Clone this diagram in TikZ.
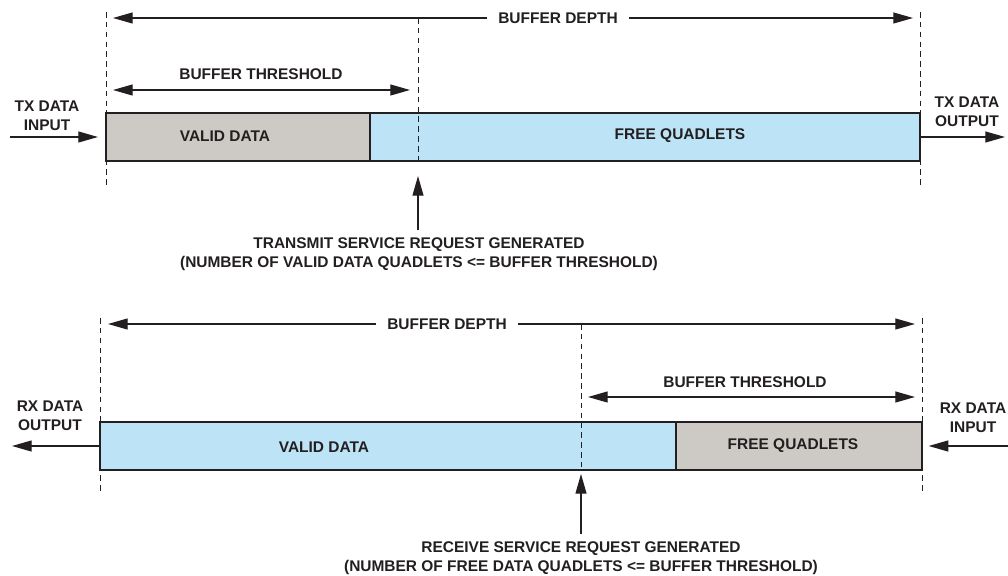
\documentclass[tikz,border=0pt]{standalone}
\usepackage{fontspec}
\setmainfont{Liberation Sans}
\usetikzlibrary{arrows.meta,calc}
\definecolor{validgray}{RGB}{205,201,196}
\definecolor{freeblue}{RGB}{189,228,246}
\definecolor{ink}{RGB}{35,31,32}

\begin{document}
\begin{tikzpicture}[
    x=0.025cm,y=-0.025cm,
    font=\bfseries\fontsize{11}{13.5}\selectfont,
    every node/.style={text=ink},
    seg/.style={rectangle,draw=ink,line width=1.4pt,minimum height=1.22cm,inner sep=0pt},
    lbl/.style={inner sep=1pt,align=center},
    gap/.style={lbl,fill=white,inner xsep=8pt},
    guide/.style={draw=ink,line width=0.6pt,dash pattern=on 4pt off 3pt},
    dim/.style={draw=ink,line width=0.9pt,{Triangle[length=14pt,width=7.8pt]}-{Triangle[length=14pt,width=7.8pt]}},
    io/.style={draw=ink,line width=0.9pt,-{Triangle[length=14pt,width=7.8pt]}}
]
\useasboundingbox (0,0) rectangle (1008,576);

% transmit buffer
\node[seg,fill=validgray,minimum width=6.6cm] (txvalid) at (238,137) {};
\node[seg,fill=freeblue,minimum width=13.75cm] (txfree) at (645,137) {};
\node[lbl] (txvalidlbl) at (225,136) {VALID DATA};
\node[lbl] (txfreelbl) at (680,136) {FREE QUADLETS};

\coordinate (txguideL) at (106,12);
\coordinate (txguideLb) at (106,187);
\coordinate (txguideM) at (418,18);
\coordinate (txguideMb) at (418,162);
\coordinate (txguideR) at (920,12);
\coordinate (txguideRb) at (920,187);
\draw[guide] (txguideL) -- (txguideLb);
\draw[guide] (txguideM) -- (txguideMb);
\draw[guide] (txguideR) -- (txguideRb);

\coordinate (txdepthL) at (113,18);
\coordinate (txdepthR) at (913,18);
\draw[dim] (txdepthL) -- (txdepthR);
\node[gap] (txdepth) at (558,18) {BUFFER DEPTH};

\coordinate (txthrL) at (113,90);
\coordinate (txthrR) at (410,90);
\draw[dim] (txthrL) -- (txthrR);
\node[lbl] (txthr) at (261,74) {BUFFER THRESHOLD};

\node[lbl] (txin) at (47,116) {TX DATA\\INPUT};
\coordinate (txinstart) at (10,137);
\draw[io,shorten >=5pt] (txinstart) -- (txvalid.west);
\node[lbl] (txout) at (967,112) {TX DATA\\OUTPUT};
\coordinate (txoutend) at (1005,137);
\draw[io] (txfree.east) -- (txoutend);

\node[lbl] (txreq) at (419,254) {TRANSMIT SERVICE REQUEST GENERATED\\
    (NUMBER OF VALID DATA QUADLETS <= BUFFER THRESHOLD)};
\coordinate (txreqtip) at (418,176);
\draw[io,shorten <=4pt] (txreq.north -| txreqtip) -- (txreqtip);

% receive buffer
\node[seg,fill=freeblue,minimum width=14.4cm] (rxvalid) at (388,446) {};
\node[seg,fill=validgray,minimum width=6.15cm] (rxfree) at (799,446) {};
\node[lbl] (rxvalidlbl) at (324,447) {VALID DATA};
\node[lbl] (rxfreelbl) at (793,446) {FREE QUADLETS};

\coordinate (rxguideL) at (100,318);
\coordinate (rxguideLb) at (100,492);
\coordinate (rxguideM) at (581,324);
\coordinate (rxguideMb) at (581,470);
\coordinate (rxguideR) at (922,318);
\coordinate (rxguideRb) at (922,492);
\draw[guide] (rxguideL) -- (rxguideLb);
\draw[guide] (rxguideM) -- (rxguideMb);
\draw[guide] (rxguideR) -- (rxguideRb);

\coordinate (rxdepthL) at (108,324);
\coordinate (rxdepthR) at (915,324);
\draw[dim] (rxdepthL) -- (rxdepthR);
\node[gap] (rxdepth) at (447,324) {BUFFER DEPTH};

\coordinate (rxthrL) at (588,397);
\coordinate (rxthrR) at (915,397);
\draw[dim] (rxthrL) -- (rxthrR);
\node[lbl] (rxthr) at (745,382) {BUFFER THRESHOLD};

\node[lbl] (rxout) at (50,416) {RX DATA\\OUTPUT};
\coordinate (rxoutend) at (12,446);
\draw[io] (rxvalid.west) -- (rxoutend);
\node[lbl] (rxin) at (973,418) {RX DATA\\INPUT};
\coordinate (rxinstart) at (1008,446);
\draw[io,shorten >=4pt] (rxinstart) -- (rxfree.east);

\node[lbl] (rxreq) at (581,558) {RECEIVE SERVICE REQUEST GENERATED\\
    (NUMBER OF FREE DATA QUADLETS <= BUFFER THRESHOLD)};
\coordinate (rxreqtip) at (581,474);
\draw[io,shorten <=4pt] (rxreq.north -| rxreqtip) -- (rxreqtip);
\end{tikzpicture}
\end{document}
